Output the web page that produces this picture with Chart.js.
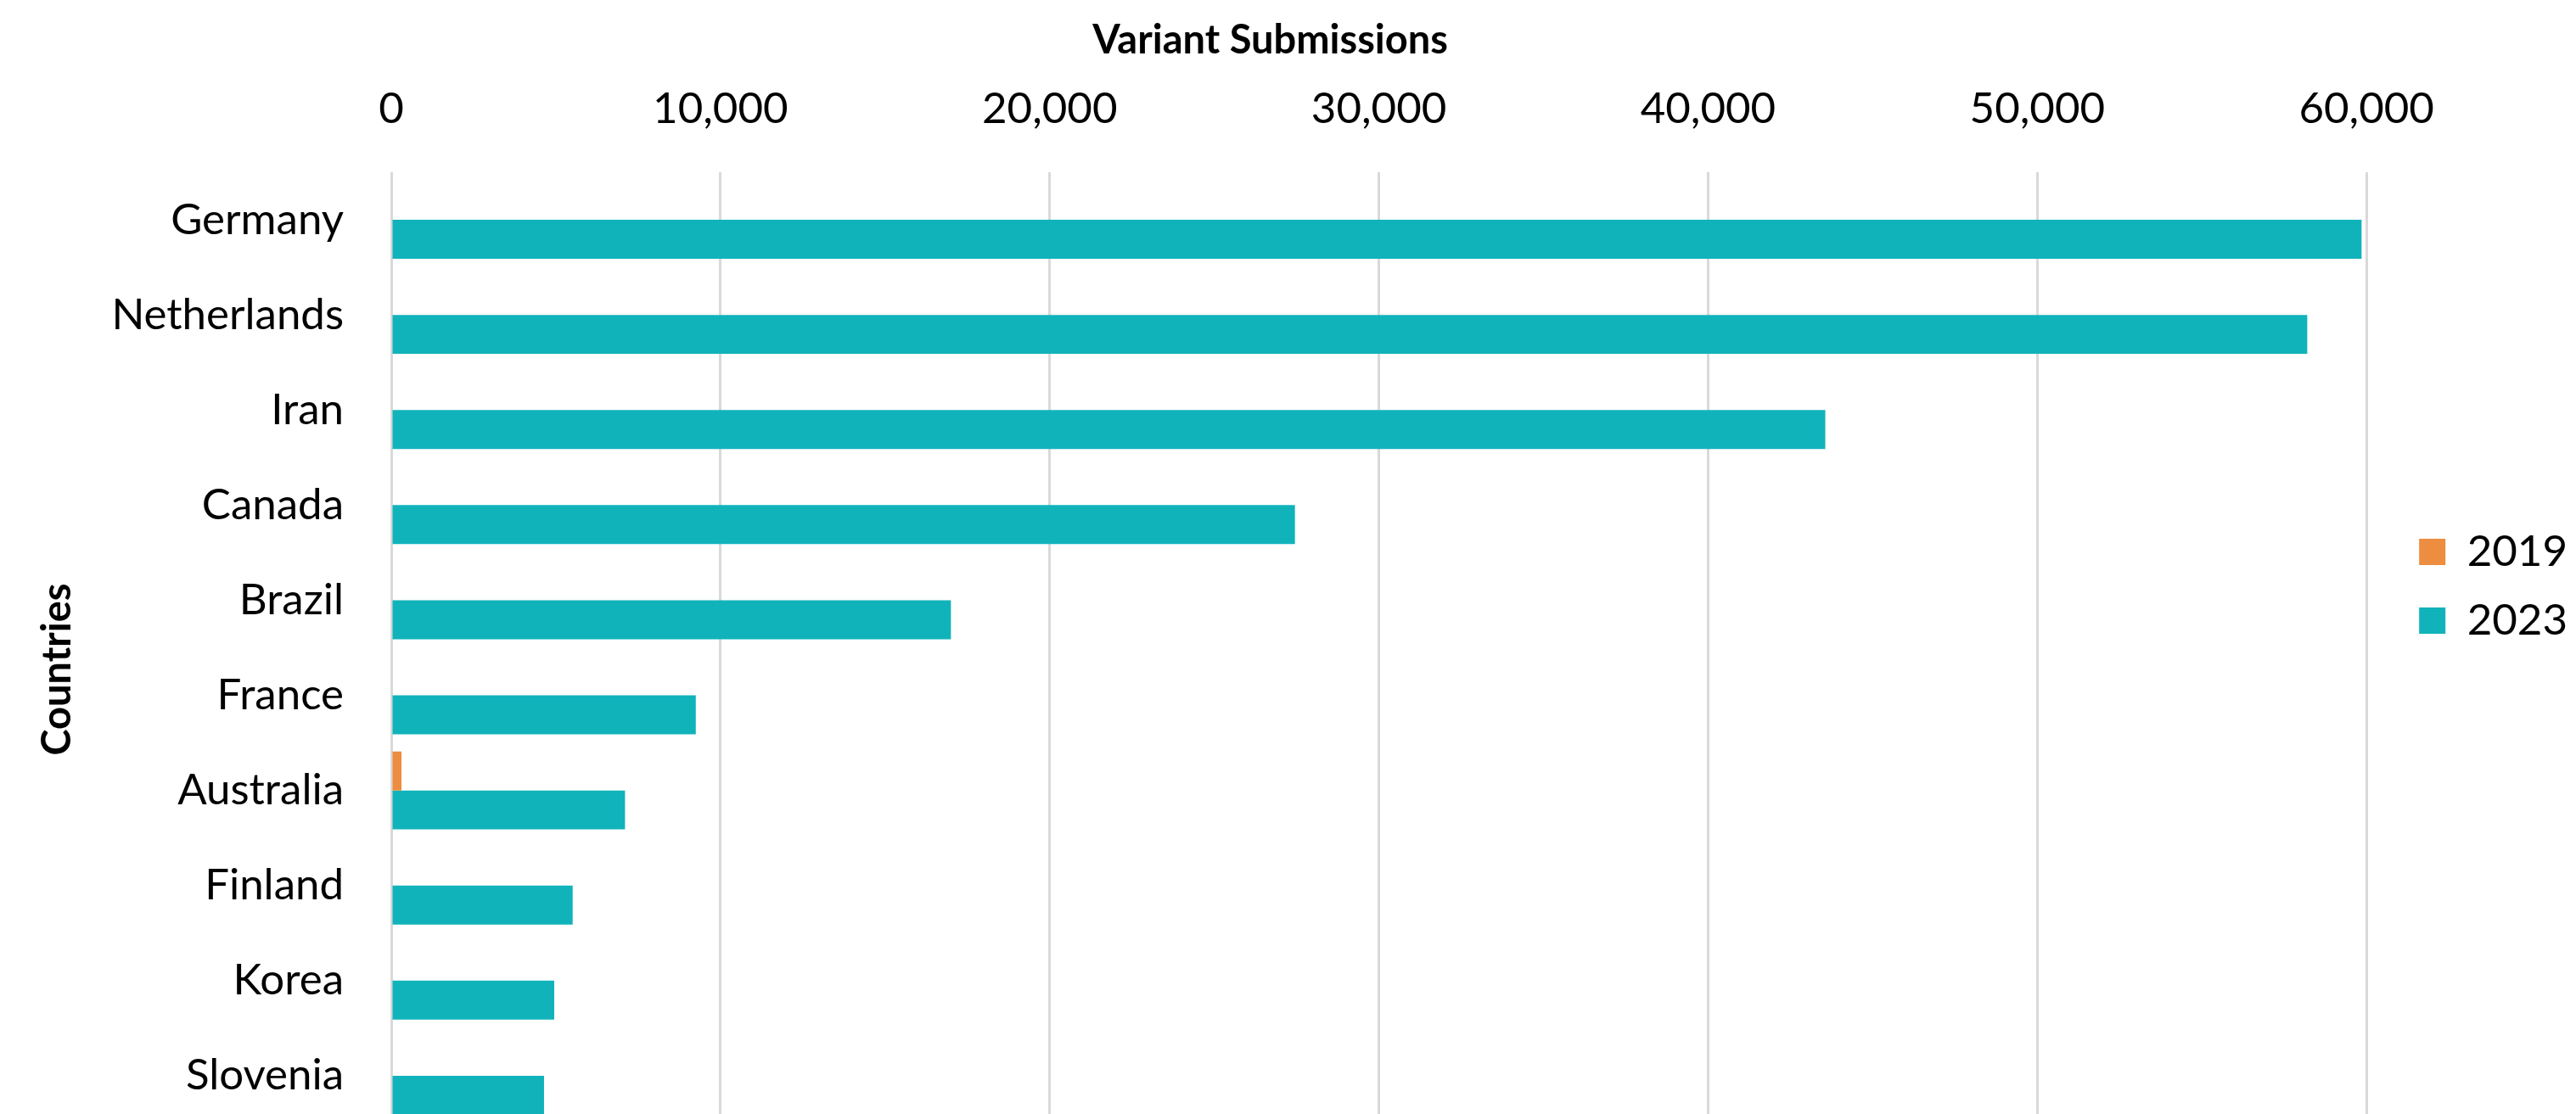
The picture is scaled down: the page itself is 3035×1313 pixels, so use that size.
<!DOCTYPE html>
<html>
<head>
<meta charset="utf-8">
<title>Variant Submissions</title>
<script src="https://cdn.jsdelivr.net/npm/chart.js@4.4.1/dist/chart.umd.min.js"></script>
<style>
    html, body { margin: 0; padding: 0; background: #ffffff; overflow: hidden; }
    #grafica { display: block; }
</style>
</head>
<body>
<canvas id="grafica" width="3035" height="1324"></canvas>
<script>
// Countries, top to bottom
const countries = ["Germany", "Netherlands", "Iran", "Canada", "Brazil", "France", "Australia", "Finland", "Korea", "Slovenia"];

// Variant submissions per year
const values2019 = [0, 0, 0, 0, 0, 0, 310, 0, 0, 0];
const values2023 = [59850, 58200, 43560, 27450, 17000, 9250, 7100, 5510, 4950, 4640];

const seriesNames = ["2019", "2023"];

// Tick values on the top axis
const xTickValues = [0, 10000, 20000, 30000, 40000, 50000, 60000];

const orange = "#ec8d40";
const teal = "#11b3bb";

Chart.defaults.font.family = "Lato";
Chart.defaults.color = "#000000";

// Empty box between the plot and the legend
const legendGapPlugin = {
    id: "legendGap",
    beforeInit(chart) {
        Chart.layouts.addBox(chart, {
            position: "right",
            weight: 500,
            fullSize: false,
            options: {},
            width: 0, height: 0, left: 0, top: 0, right: 0, bottom: 0,
            isHorizontal() { return false; },
            update(maxWidth, maxHeight) {
                this.width = 32;
                this.height = maxHeight;
            },
            draw() {}
        });
    }
};

// Axis titles placed like in the original
const axisTitlePlugin = {
    id: "axisTitles",
    afterDraw(chart) {
        const { ctx, chartArea } = chart;
        ctx.save();
        ctx.fillStyle = "#000000";
        ctx.font = "bold 47px Lato";
        ctx.textAlign = "center";
        ctx.textBaseline = "middle";
        ctx.fillText("Variant Submissions", chartArea.left + chartArea.width * 0.445, 48);

        ctx.translate(68, 789);
        ctx.rotate(-Math.PI / 2);
        ctx.fillText("Countries", 0, 0);
        ctx.restore();
    }
};

new Chart(document.getElementById("grafica"), {
    type: "bar",
    data: {
        labels: countries,
        datasets: [{
            label: seriesNames[0],
            data: values2019,
            backgroundColor: orange,
            borderWidth: 0,
            categoryPercentage: 0.82,
            barPercentage: 1
        }, {
            label: seriesNames[1],
            data: values2023,
            backgroundColor: teal,
            borderWidth: 0,
            categoryPercentage: 0.82,
            barPercentage: 1
        }]
    },
    options: {
        indexAxis: "y",
        responsive: false,
        animation: false,
        devicePixelRatio: 1,
        layout: {
            padding: { top: 98, right: 0, bottom: 0, left: 0 }
        },
        scales: {
            x: {
                type: "linear",
                position: "top",
                min: xTickValues[0],
                max: xTickValues[xTickValues.length - 1],
                afterBuildTicks(scale) {
                    scale.ticks = xTickValues.map(v => ({ value: v }));
                },
                afterFit(scale) {
                    scale.height = 105;
                },
                grid: {
                    color: "#d9d9d9",
                    lineWidth: 3,
                    drawTicks: false
                },
                border: { display: false },
                ticks: {
                    font: { size: 51, lineHeight: 1.2 },
                    color: "#000000",
                    padding: 44,
                    maxRotation: 0,
                    callback: (value) => Number(value).toLocaleString("en-US")
                }
            },
            y: {
                type: "category",
                afterFit(scale) {
                    // fixed label column, and no extra room below the last row
                    scale.width = 461;
                    scale.paddingTop = 0;
                    scale.paddingBottom = 0;
                },
                grid: { display: false, drawTicks: false },
                border: { display: false },
                ticks: {
                    font: { size: 51, lineHeight: 1.2 },
                    color: "#000000",
                    padding: 56
                }
            }
        },
        plugins: {
            legend: {
                position: "right",
                align: "start",
                title: {
                    display: true,
                    text: "",
                    font: { size: 1, lineHeight: 1 },
                    padding: { top: 0, bottom: 496 }
                },
                labels: {
                    boxWidth: 31,
                    boxHeight: 31,
                    padding: 30,
                    color: "#000000",
                    font: { size: 51 }
                }
            },
            tooltip: { enabled: false }
        }
    },
    plugins: [legendGapPlugin, axisTitlePlugin]
});
</script>
</body>
</html>
